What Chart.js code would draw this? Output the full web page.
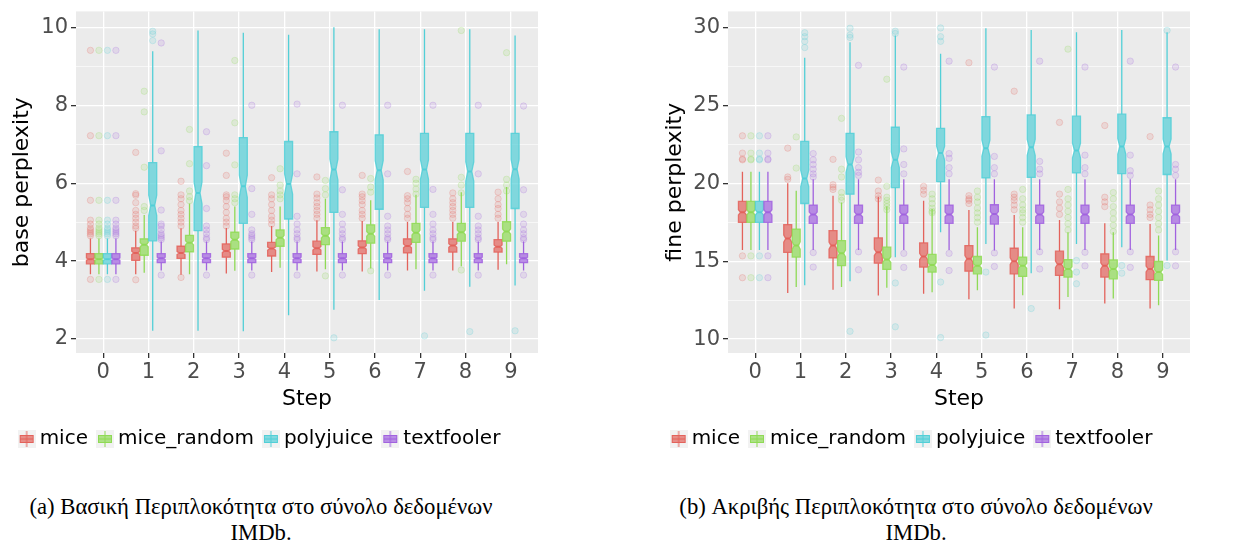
<!DOCTYPE html>
<html>
<head>
<meta charset="utf-8">
<style>
  body { margin: 0; width: 1233px; height: 548px; background: #fff; position: relative; overflow: hidden; }
  .panel { position: absolute; top: 0; }
  .cap { position: absolute; font-family: 'Liberation Serif', serif; font-size: 22.7px; line-height: 26px; text-align: center; color: #000; white-space: nowrap; }
</style>
<script src="https://cdn.jsdelivr.net/npm/chart.js"></script>
</head>
<body>
<div class="panel" style="left:-14px"><canvas id="baseChart" width="568" height="470"></canvas></div>
<div class="panel" style="left:638px"><canvas id="fineChart" width="595" height="470"></canvas></div>
<div class="cap" style="left:0;width:522px;top:494px">(a) Βασική Περιπλοκότητα στο σύνολο δεδομένων<br>IMDb.</div>
<div class="cap" style="left:640px;width:552px;top:494px">(b) Ακριβής Περιπλοκότητα στο σύνολο δεδομένων<br>IMDb.</div>
<script>
// x categories and groups
const steps = [0, 1, 2, 3, 4, 5, 6, 7, 8, 9];
const methods = ['mice', 'mice_random', 'polyjuice', 'textfooler'];
const colors = ['#E3625B', '#8FDA55', '#52CFD7', '#A162DF'];
const notchN = 150; // samples per box (notch depth)

// box stats per step: [lower whisker, q1, median, q3, upper whisker]
// (a) base perplexity
const baseMice = [[3.66,3.93,4.05,4.19,4.58],[3.66,4.02,4.21,4.34,4.78],[3.65,4.07,4.21,4.38,4.84],[3.68,4.10,4.26,4.44,4.85],[3.72,4.13,4.32,4.48,4.90],
                  [3.73,4.17,4.33,4.51,5.05],[3.73,4.19,4.35,4.52,5.03],[3.76,4.21,4.39,4.57,5.00],[3.76,4.23,4.40,4.57,5.00],[3.78,4.23,4.37,4.55,5.00]];
const baseRandom = [[3.66,3.93,4.05,4.19,4.58],[3.70,4.15,4.42,4.57,5.18],[3.66,4.24,4.47,4.66,5.48],[3.75,4.31,4.55,4.74,5.40],[3.83,4.38,4.60,4.80,5.40],
                    [3.79,4.42,4.65,4.86,5.60],[3.81,4.46,4.70,4.93,5.56],[3.79,4.48,4.73,4.97,5.70],[3.87,4.51,4.74,4.97,5.77],[3.92,4.51,4.76,5.01,5.90]];
const basePoly = [[3.66,3.93,4.05,4.19,4.58],[2.21,4.52,5.43,6.53,9.39],[2.21,4.78,5.75,6.94,9.92],[2.20,4.97,5.92,7.17,9.86],[2.61,5.08,5.98,7.07,9.81],
                  [2.75,5.25,6.35,7.32,10.0],[3.00,5.33,6.33,7.24,9.95],[3.24,5.38,6.35,7.28,9.95],[3.34,5.38,6.30,7.28,9.95],[3.37,5.35,6.36,7.28,9.79]];
const baseText = [[3.66,3.93,4.05,4.19,4.58],[3.76,3.96,4.07,4.19,4.50],[3.76,3.96,4.07,4.19,4.50],[3.76,3.96,4.07,4.19,4.50],[3.76,3.96,4.07,4.19,4.50],
                  [3.76,3.96,4.07,4.19,4.50],[3.76,3.96,4.07,4.19,4.50],[3.76,3.96,4.07,4.19,4.50],[3.76,3.96,4.07,4.19,4.50],[3.76,3.96,4.07,4.19,4.50]];
// outliers per step
const baseMiceOut = [[3.53,4.65,4.7,4.75,4.8,4.85,4.95,5.05,5.56,7.22,9.41],[3.52,4.84,4.9,5.0,5.1,5.2,5.3,5.5,5.69,5.73,6.79],[3.58,4.9,5.0,5.1,5.2,5.3,5.45,5.6,5.7,6.05],
                     [4.9,5.0,5.1,5.25,5.4,5.55,5.65,5.7,6.2,6.77],[4.95,5.05,5.15,5.3,5.45,5.6,5.7,6.14],[5.1,5.2,5.3,5.4,5.5,5.62,5.72,6.16],
                     [5.1,5.2,5.3,5.45,5.55,5.65,5.72,6.2],[5.1,5.2,5.35,5.5,5.6,5.68,6.3],[5.1,5.2,5.3,5.4,5.5,5.6,5.75],[5.1,5.2,5.35,5.45,5.6,5.77]];
const baseRandomOut = [[3.53,4.65,4.7,4.75,4.8,4.85,4.95,5.05,5.56,7.22,9.41],[5.3,5.4,6.41,7.83,8.36],[5.55,5.65,5.8,6.5,7.38],[5.5,5.6,5.7,6.47,7.55,9.15],
                       [5.6,5.7,5.8,5.95,6.37],[3.62,5.7,5.86,6.07],[3.75,5.77,5.9,6.12],[5.72,5.85,6.0,6.1],[3.77,5.75,5.95,6.15,9.92],[5.8,5.95,6.1,9.35]];
const basePolyOut = [[3.53,4.65,4.7,4.75,4.8,4.85,4.95,5.05,5.56,7.22,9.41],[9.66,9.83,9.9],[],[],[],[2.03],[],[2.08],[2.19],[2.21]];
const baseTextOut = [[3.53,4.65,4.7,4.75,4.8,4.85,4.95,5.05,5.56,7.22,9.41],[3.64,4.55,4.6,4.65,4.7,4.8,4.9,4.95,5.31,6.83,9.6],[3.64,4.55,4.6,4.7,4.8,4.9,5.35,6.45,7.32],
                     [3.64,4.55,4.6,4.65,4.7,4.8,5.2,5.86,8.0],[3.64,4.55,4.6,4.7,4.8,4.95,5.15,6.24,8.03],[3.64,4.55,4.6,4.7,4.8,4.95,5.2,5.83,8.0],
                     [3.64,4.55,4.6,4.7,4.8,4.9,5.15,6.24,8.0],[3.64,4.55,4.6,4.7,4.8,4.95,5.2,5.84,8.0],[3.64,4.55,4.6,4.7,4.8,4.9,5.15,6.24,8.0],[3.64,4.55,4.6,4.7,4.8,4.95,5.2,5.83,7.98]];

// (b) fine perplexity
const fineMice = [[15.72,17.49,18.13,18.83,20.74],[12.96,15.57,16.45,17.34,20.0],[13.17,15.21,16.0,16.96,19.19],[12.8,14.87,15.57,16.49,19.13],[12.91,14.62,15.3,16.17,18.87],
                  [12.55,14.36,15.15,16.0,18.28],[11.96,14.19,15.0,15.83,17.96],[11.91,14.09,14.8,15.64,17.64],[12.28,13.98,14.7,15.47,17.43],[11.96,13.81,14.5,15.3,17.38]];
const fineRandom = [[15.72,17.49,18.13,18.83,20.74],[13.34,15.26,16.0,17.06,19.51],[13.34,14.72,15.5,16.32,18.77],[13.3,14.47,15.1,15.9,18.5],[13.0,14.3,14.75,15.43,18.34],
                    [13.13,14.19,14.7,15.3,17.17],[12.81,14.02,14.7,15.26,17.17],[12.7,13.98,14.5,15.1,16.85],[12.6,13.87,14.5,15.08,16.85],[12.17,13.77,14.3,14.98,16.64]];
const finePoly = [[15.72,17.49,18.13,18.83,20.74],[13.45,18.7,20.3,22.68,28.04],[13.72,19.3,21.2,23.2,29.04],[15.25,19.72,21.5,23.59,29.47],[16.85,20.1,21.93,23.52,28.3],
                  [16.1,20.34,22.25,24.27,29.94],[14.23,20.38,22.3,24.38,29.83],[16.1,20.66,22.1,24.3,29.68],[15.9,20.62,22.36,24.43,29.83],[15.04,20.56,22.36,24.2,29.68]];
const fineText = [[15.72,17.49,18.13,18.83,20.74],[15.72,17.43,18.0,18.6,20.25],[15.72,17.43,18.0,18.6,20.25],[15.72,17.43,18.0,18.6,20.25],[15.72,17.43,18.0,18.6,20.25],
                  [15.68,17.38,18.02,18.62,20.25],[15.72,17.43,18.0,18.6,20.25],[15.72,17.43,18.0,18.6,20.25],[15.72,17.43,18.0,18.6,20.25],[15.72,17.43,18.0,18.6,20.25]];
const fineMiceOut = [[13.94,15.34,21.5,21.55,21.93,23.04],[20.25,20.4,22.25],[19.6,19.75,19.9,21.53],[19.0,19.2,19.5,20.2],[19.3,19.55,19.8],
                     [18.7,18.9,19.0,19.2,27.73],[18.3,18.6,18.9,19.1,19.3,25.9],[18.0,18.4,18.8,19.3,23.9],[18.5,18.8,19.1,23.7],[17.8,18.0,18.3,18.6,22.99]];
const fineRandomOut = [[13.94,15.34,21.5,21.55,21.93,23.04],[20.97,22.97],[18.9,19.1,19.4,20.4,20.9,24.16],[18.3,18.5,18.7,18.9,19.1,19.8,26.67],[18.1,18.2,18.4,18.7,19.0,19.3],
                       [17.5,17.8,18.1,18.4,18.8,19.1,19.5],[17.5,17.8,18.1,18.3,18.6,19.0,19.6],[17.0,17.4,17.8,18.2,18.6,19.0,19.6,28.6],[16.9,17.3,17.7,18.1,18.5,19.0,19.4],[17.0,17.4,17.8,18.2,18.6,19.0,19.5]];
const finePolyOut = [[13.94,15.34,21.5,21.55,21.93,23.04],[28.7,29.1,29.4,29.65],[10.5,29.35,29.5,29.94],[10.79,13.6,29.6,29.75],[10.1,13.66,29.1,29.4,29.96],
                     [10.26,14.3],[11.96],[13.55,14.3,15.04],[14.23,14.72],[14.72,29.8]];
const fineTextOut = [[13.94,15.34,21.5,21.55,21.93,23.04],[14.62,15.55,20.4,20.6,20.9,21.2,21.5,21.9],[14.45,15.6,20.5,20.7,21.0,21.5,22.0,27.56],[14.6,15.5,20.6,21.2,22.2,27.45],
                     [14.4,15.5,20.6,21.0,21.6,21.9,27.83],[14.66,15.53,20.6,21.0,21.72,27.45],[14.5,15.6,20.6,20.9,21.4,27.83],[14.7,15.57,20.6,21.0,21.8,27.45],
                     [14.6,15.6,20.5,20.8,21.8,27.83],[14.7,15.6,20.5,20.9,21.2,27.45]];

Chart.defaults.font.family = "'DejaVu Sans', sans-serif";

function rgba(hex, a) {
  const n = parseInt(hex.slice(1), 16);
  return 'rgba(' + (n >> 16) + ',' + ((n >> 8) & 255) + ',' + (n & 255) + ',' + a + ')';
}

// small boxplot glyph for the legend keys
function legendIcon(color) {
  const c = document.createElement('canvas');
  c.width = 18; c.height = 18;
  const g = c.getContext('2d');
  g.fillStyle = '#F2F2F2';
  g.fillRect(0, 0, 18, 18);
  g.strokeStyle = color; g.lineWidth = 1;
  g.beginPath(); g.moveTo(9, 1); g.lineTo(9, 17); g.stroke();
  g.fillStyle = rgba(color, 0.7);
  g.fillRect(2.5, 5.5, 13, 7);
  g.strokeRect(2.5, 5.5, 13, 7);
  g.beginPath(); g.moveTo(2.5, 9); g.lineTo(15.5, 9); g.stroke();
  return c;
}
const icons = colors.map(legendIcon);

const panelBg = {
  id: 'panelBg',
  beforeDraw(chart) {
    const a = chart.chartArea;
    chart.ctx.fillStyle = '#EBEBEB';
    chart.ctx.fillRect(a.left, a.top, a.right - a.left, a.bottom - a.top);
  }
};

// notched boxes, whiskers and outliers drawn at the bar slots
const boxPlot = {
  id: 'boxPlot',
  afterDatasetsDraw(chart) {
    const ctx = chart.ctx, a = chart.chartArea, ys = chart.scales.y;
    const py = v => ys.getPixelForValue(v);
    ctx.save();
    ctx.beginPath();
    ctx.rect(a.left, a.top, a.right - a.left, a.bottom - a.top);
    ctx.clip();
    chart.data.datasets.forEach((ds, i) => {
      const c = ds.color;
      chart.getDatasetMeta(i).data.forEach((bar, j) => {
        const {x, width} = bar.getProps(['x', 'width'], true);
        const [lo, q1, med, q3, hi] = ds.stats[j];
        const nh = 1.58 * (q3 - q1) / Math.sqrt(notchN);
        const L = x - width / 2, R = x + width / 2, ins = width / 4;
        // outliers
        ctx.lineWidth = 1;
        ctx.fillStyle = rgba(c, 0.14);
        ctx.strokeStyle = rgba(c, 0.22);
        ds.outliers[j].forEach(v => {
          ctx.beginPath();
          ctx.arc(x, py(v), 3.2, 0, Math.PI * 2);
          ctx.fill(); ctx.stroke();
        });
        // whiskers
        ctx.strokeStyle = c;
        ctx.lineWidth = 1.3;
        ctx.beginPath();
        ctx.moveTo(x, py(hi)); ctx.lineTo(x, py(q3));
        ctx.moveTo(x, py(q1)); ctx.lineTo(x, py(lo));
        ctx.stroke();
        // notched box
        ctx.beginPath();
        ctx.moveTo(L, py(q3)); ctx.lineTo(R, py(q3));
        ctx.lineTo(R, py(med + nh)); ctx.lineTo(R - ins, py(med)); ctx.lineTo(R, py(med - nh));
        ctx.lineTo(R, py(q1)); ctx.lineTo(L, py(q1));
        ctx.lineTo(L, py(med - nh)); ctx.lineTo(L + ins, py(med)); ctx.lineTo(L, py(med + nh));
        ctx.closePath();
        ctx.fillStyle = rgba(c, 0.7);
        ctx.fill();
        ctx.strokeStyle = rgba(c, 0.85);
        ctx.stroke();
        // median
        ctx.lineWidth = 2;
        ctx.strokeStyle = c;
        ctx.beginPath();
        ctx.moveTo(L + ins, py(med)); ctx.lineTo(R - ins, py(med));
        ctx.stroke();
      });
    });
    ctx.restore();
  }
};

function makeDatasets(stats, outs) {
  return methods.map((m, k) => ({
    label: m,
    data: steps.map((s, j) => ({x: s, y: [stats[k][j][1], stats[k][j][3]]})),
    stats: stats[k],
    outliers: outs[k],
    color: colors[k],
    backgroundColor: 'rgba(0,0,0,0)',
    borderWidth: 0,
    categoryPercentage: 0.75,
    barPercentage: 0.94
  }));
}

function makeChart(id, stats, outs, yTitle, yMin, yMax, yStep, yLabelEvery, axisW, titlePad) {
  const canvas = document.getElementById(id);
  return new Chart(canvas, {
    type: 'bar',
    data: {datasets: makeDatasets(stats, outs)},
    options: {
      responsive: false,
      animation: false,
      devicePixelRatio: 1,
      layout: {padding: {top: 9, left: 0, right: canvas.width - (axisW + 462), bottom: 11}},
      plugins: {
        tooltip: {enabled: false},
        legend: {
          position: 'bottom',
          labels: {
            usePointStyle: true,
            pointStyleWidth: 6,
            padding: 14,
            font: {size: 20},
            generateLabels: chart => chart.data.datasets.map((ds, i) => ({
              text: ds.label, pointStyle: icons[i], datasetIndex: i, hidden: false,
              fontColor: '#000', lineWidth: 0, fillStyle: ds.color, strokeStyle: ds.color
            }))
          }
        }
      },
      scales: {
        x: {
          type: 'linear',
          min: -0.6, max: 9.6,
          offset: false,
          afterFit: s => { s.height = 62; },
          border: {display: false},
          grid: {offset: false, color: '#FFFFFF', lineWidth: 1.3, tickColor: '#333333', tickLength: 5},
          ticks: {stepSize: 1, includeBounds: false, autoSkip: false, maxRotation: 0, color: '#4D4D4D', font: {size: 21}, padding: 2},
          title: {display: true, text: 'Step', color: '#000', font: {size: 22}, padding: {top: 0, bottom: 3}}
        },
        y: {
          min: yMin, max: yMax,
          afterFit: s => { s.width = axisW; },
          border: {display: false},
          grid: {
            color: '#FFFFFF',
            lineWidth: c => (c.tick && Math.abs(c.tick.value % yLabelEvery) < 1e-6) ? 1.3 : 0.6,
            tickColor: c => (c.tick && Math.abs(c.tick.value % yLabelEvery) < 1e-6) ? '#333333' : 'rgba(0,0,0,0)',
            tickLength: 5
          },
          ticks: {
            stepSize: yStep, includeBounds: false, autoSkip: false, color: '#4D4D4D', font: {size: 21, lineHeight: 0.8}, padding: 3,
            callback: v => Math.abs(v % yLabelEvery) < 1e-6 ? String(v) : ''
          },
          title: {display: true, text: yTitle, color: '#000', font: {size: 22}, padding: {top: titlePad, bottom: 0}}
        }
      }
    },
    plugins: [panelBg, boxPlot]
  });
}

makeChart('baseChart', [baseMice, baseRandom, basePoly, baseText], [baseMiceOut, baseRandomOut, basePolyOut, baseTextOut],
          'base perplexity', 1.64, 10.41, 1, 2, 90, 23);
makeChart('fineChart', [fineMice, fineRandom, finePoly, fineText], [fineMiceOut, fineRandomOut, finePolyOut, fineTextOut],
          'fine perplexity', 9.11, 31.02, 2.5, 5, 90, 24);
</script>
</body>
</html>
